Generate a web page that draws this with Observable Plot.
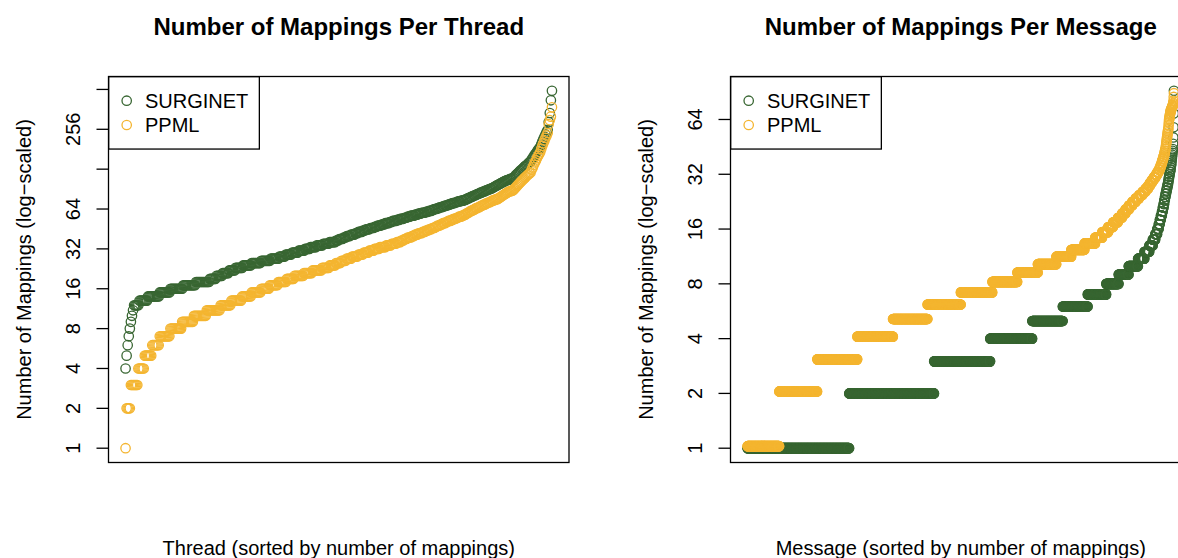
<!DOCTYPE html>
<html>
<head>
<meta charset="utf-8">
<script src="https://cdn.jsdelivr.net/npm/d3@7"></script>
<script src="https://cdn.jsdelivr.net/npm/@observablehq/plot@0.6"></script>
<style>
  html, body { margin: 0; padding: 0; background: #fff; overflow: hidden; }
  #fig { position: relative; width: 1178px; height: 558px; overflow: hidden;
         font-family: "Liberation Sans", Arial, Helvetica, sans-serif; }
  .panel { position: absolute; top: 0; width: 622px; height: 558px; }
  .panel svg.plot { position: absolute; left: 0; top: 0; overflow: visible; }
  .legend { position: absolute; left: 108px; top: 76px; }
</style>
</head>
<body>
<div id="fig"></div>
<script>
// Series names and colours
const seriesNames = ["SURGINET", "PPML"];
const seriesColors = ["#386632", "#F4B530"];

// Sorted mapping counts, stored as [number of mappings, how many items have it]
const threadSurginet = [
  [4,1],[5,1],[6,1],[7,1],[8,1],[9,1],[10,1],[11,1],[12,5],[13,8],[14,11],[15,10],[16,12],[17,12],[18,13],
  [19,6],[20,6],[21,6],[22,6],[23,7],[24,8],[25,9],[26,9],[27,8],[28,6],[29,6],[30,6],[31,6],[32,5],[33,6],
  [34,6],[35,6],[36,6],[37,3],[38,4],[39,3],[40,4],[41,4],[42,3],[43,4],[44,3],[45,4],[46,4],[47,3],[48,4],
  [49,3],[50,4],[51,3],[52,4],[53,3],[54,4],[55,3],[56,3],[57,4],[58,3],[59,3],[60,4],[61,3],[62,3],[63,2],
  [64,3],[65,2],[66,3],[67,2],[68,3],[69,2],[70,2],[71,3],[72,2],[73,3],[74,3],[75,2],[76,1],[77,2],[78,1],
  [79,2],[80,1],[81,2],[82,1],[83,2],[84,1],[85,2],[86,1],[87,2],[88,1],[89,2],[90,1],[91,2],[92,1],[93,1],
  [94,1],[95,1],[96,1],[97,1],[98,1],[99,1],[100,1],[101,1],[102,1],[103,1],[104,1],[105,1],[106,2],[107,1],
  [108,2],[109,1],[110,1],[112,1],[115,1],[117,1],[119,1],[121,1],[124,1],[126,1],[128,1],[130,1],[133,1],
  [135,1],[137,1],[139,1],[142,1],[144,1],[146,1],[151,1],[155,1],[160,1],[165,1],[169,1],[174,1],[179,1],
  [183,1],[188,1],[197,1],[207,1],[216,1],[225,1],[234,1],[244,1],[253,1],[290,1],[340,1],[424,1],[500,1]
];
const threadPpml = [
  [1,1],[2,4],[3,7],[4,6],[5,7],[6,7],[7,10],[8,11],[9,11],[10,12],[11,13],[12,10],[13,10],[14,9],[15,9],
  [16,8],[17,8],[18,8],[19,7],[20,9],[21,8],[22,9],[23,7],[24,6],[25,5],[26,5],[27,5],[28,6],[29,5],[30,5],
  [31,5],[32,5],[33,6],[34,5],[35,5],[36,4],[37,3],[38,3],[39,4],[40,3],[41,3],[42,4],[43,3],[44,3],[45,3],
  [46,3],[47,2],[48,3],[49,2],[50,3],[51,2],[52,3],[53,2],[54,3],[55,2],[56,3],[57,2],[58,2],[59,1],[60,2],
  [61,1],[62,2],[63,2],[64,1],[65,2],[66,2],[67,1],[68,2],[69,2],[70,1],[71,2],[72,2],[73,1],[74,2],[75,2],
  [76,2],[77,1],[78,1],[79,1],[80,1],[81,1],[82,1],[83,1],[84,1],[85,1],[86,1],[87,2],[88,2],[89,1],[91,1],
  [93,1],[95,1],[97,1],[99,1],[101,1],[103,1],[105,1],[107,1],[109,1],[111,1],[113,1],[115,1],[117,1],[119,1],
  [121,1],[127,1],[132,1],[138,1],[144,1],[149,1],[155,1],[161,1],[166,1],[172,1],[182,1],[192,1],[201,1],
  [211,1],[221,1],[230,1],[240,1],[280,1],[300,1],[319,1],[375,1]
];
const messageSurginet = [
  [1,477],[2,398],[3,263],[4,197],[5,143],[6,117],[7,87],[8,58],[9,47],[10,44],[11,30],[12,23],[13,16],
  [14,12],[15,9],[16,7],[17,5],[18,5],[19,5],[20,4],[21,4],[22,3],[23,3],[24,3],[25,3],[26,3],[27,3],[28,3],
  [29,2],[30,2],[31,2],[32,2],[33,2],[34,2],[35,1],[36,2],[37,1],[38,1],[39,1],[40,1],[41,1],[42,1],[43,1],
  [44,1],[47,1],[51,1],[58,1],[69,1],[92,1]
];
const messagePpml = [
  [1,149],[2,178],[3,188],[4,167],[5,162],[6,156],[7,148],[8,117],[9,96],[10,87],[11,70],[12,62],[13,50],
  [14,33],[15,28],[16,23],[17,23],[18,19],[19,16],[20,16],[21,16],[22,16],[23,16],[24,16],[25,14],[26,12],
  [27,9],[28,9],[29,9],[30,9],[31,7],[32,7],[33,5],[34,4],[35,4],[36,3],[37,3],[38,3],[39,3],[40,2],[41,2],
  [42,2],[43,2],[44,1],[45,1],[46,1],[47,1],[48,1],[49,1],[50,1],[51,1],[52,1],[53,1],[54,1],[55,1],[56,1],
  [58,1],[60,1],[62,1],[63,1],[64,1],[65,1],[66,1],[67,1],[68,1],[69,1],[70,2],[71,2],[72,2],[73,2],[74,2],
  [75,1],[76,1],[77,1],[79,1],[83,1],[87,1]
];

// Axis ticks (powers of two) and the ones that carry a label
const threadTicks = [1, 2, 4, 8, 16, 32, 64, 128, 256, 512];
const threadTickLabels = [1, 2, 4, 8, 16, 32, 64, 256];
const messageTicks = [1, 2, 4, 8, 16, 32, 64];
const messageTickLabels = [1, 2, 4, 8, 16, 32, 64];

const yTitle = "Number of Mappings (log\u2212scaled)";
const font = "'Liberation Sans', Arial, Helvetica, sans-serif";

// Expand [value, count] pairs into one sorted value per item
function expand(runs) {
  const out = [];
  for (const [v, n] of runs) for (let k = 0; k < n; k++) out.push(v);
  return out;
}

function panel({left, title, xLabel, surginet, ppml, ticks, tickLabels, ppmlDy}) {
  const s = expand(surginet), p = expand(ppml);
  const n = Math.max(s.length, p.length);
  const xPad = 0.04 * (n - 1);
  const all = s.concat(p);
  const l0 = Math.log(d3.min(all)), l1 = Math.log(d3.max(all));
  const yPad = 0.04 * (l1 - l0);
  const sData = s.map((v, i) => ({i: i + 1, v}));
  const pData = p.map((v, i) => ({i: i + 1, v}));
  const yDomain = [Math.exp(l0 - yPad), Math.exp(l1 + yPad)];
  const inDomain = t => t >= yDomain[0] && t <= yDomain[1];

  const chart = Plot.plot({
    width: 622, height: 558,
    marginLeft: 108, marginRight: 53.5, marginTop: 76, marginBottom: 96,
    x: {domain: [1 - xPad, n + xPad], axis: null},
    y: {type: "log", domain: yDomain, axis: null},
    style: {fontFamily: font, fontSize: "20px", color: "#000", background: "transparent", overflow: "visible"},
    marks: [
      Plot.dot(sData, {x: "i", y: "v", r: 4.7, stroke: seriesColors[0], strokeWidth: 1.3, fill: "none"}),
      Plot.dot(pData, {x: "i", y: "v", r: 4.7, stroke: seriesColors[1], strokeWidth: 1.3, fill: "none", dy: ppmlDy}),
      Plot.frame({stroke: "#000", strokeWidth: 1.3}),
      // tick marks pointing outwards from the left edge
      Plot.axisY(ticks.filter(inDomain), {tickSize: 11.5, strokeWidth: 1.3, label: null, tickFormat: () => ""}),
      // rotated tick labels
      Plot.text(tickLabels.filter(inDomain), {
        y: d => d, text: d => String(d), frameAnchor: "left", dx: -28.5, rotate: -90,
        textAnchor: "middle", lineAnchor: "bottom", fontSize: 20
      }),
      Plot.text([title], {text: d => d, frameAnchor: "top", dy: -42, lineAnchor: "bottom",
                          fontSize: 24, fontWeight: "bold"}),
      Plot.text([xLabel], {text: d => d, frameAnchor: "bottom", dy: 92, lineAnchor: "bottom", fontSize: 20}),
      Plot.text([yTitle], {text: d => d, frameAnchor: "left", dx: -78, rotate: -90,
                           textAnchor: "middle", lineAnchor: "bottom", fontSize: 20})
    ]
  });
  chart.classList.add("plot");

  const wrap = document.createElement("div");
  wrap.className = "panel";
  wrap.style.left = left + "px";
  wrap.appendChild(chart);

  // Legend box in the top-left corner of the plotting region
  const ns = "http://www.w3.org/2000/svg";
  const lg = document.createElementNS(ns, "svg");
  lg.setAttribute("class", "legend");
  lg.setAttribute("width", 152);
  lg.setAttribute("height", 74);
  lg.setAttribute("font-family", font);
  const box = document.createElementNS(ns, "rect");
  box.setAttribute("x", 0.65); box.setAttribute("y", 0.65);
  box.setAttribute("width", 150.7); box.setAttribute("height", 72.4);
  box.setAttribute("fill", "none"); box.setAttribute("stroke", "#000"); box.setAttribute("stroke-width", 1.3);
  lg.appendChild(box);
  seriesNames.forEach((name, k) => {
    const c = document.createElementNS(ns, "circle");
    c.setAttribute("cx", 18.7); c.setAttribute("cy", 24.7 + k * 24.3); c.setAttribute("r", 4.7);
    c.setAttribute("fill", "none"); c.setAttribute("stroke", seriesColors[k]); c.setAttribute("stroke-width", 1.3);
    lg.appendChild(c);
    const t = document.createElementNS(ns, "text");
    t.setAttribute("x", 37); t.setAttribute("y", 32.3 + k * 23.6);
    t.setAttribute("font-size", 20); t.setAttribute("fill", "#000");
    t.textContent = name;
    lg.appendChild(t);
  });
  wrap.appendChild(lg);
  document.getElementById("fig").appendChild(wrap);
}

panel({
  left: 0,
  title: "Number of Mappings Per Thread",
  xLabel: "Thread (sorted by number of mappings)",
  surginet: threadSurginet, ppml: threadPpml,
  ticks: threadTicks, tickLabels: threadTickLabels, ppmlDy: 0
});
panel({
  left: 622.3,
  title: "Number of Mappings Per Message",
  xLabel: "Message (sorted by number of mappings)",
  surginet: messageSurginet, ppml: messagePpml,
  ticks: messageTicks, tickLabels: messageTickLabels, ppmlDy: -2
});
</script>
</body>
</html>
